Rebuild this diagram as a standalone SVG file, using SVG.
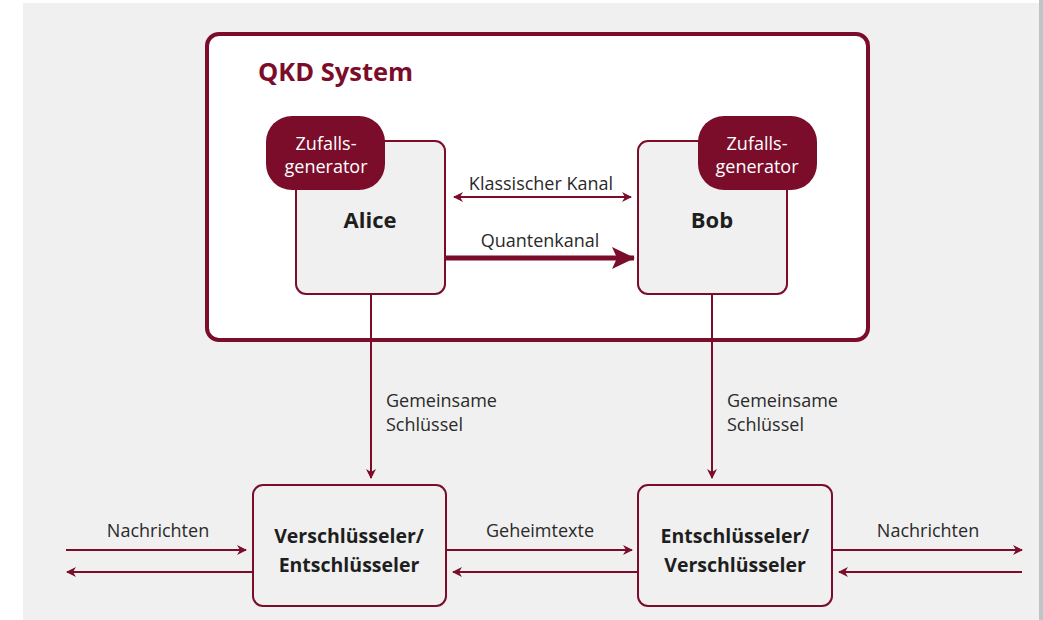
<svg xmlns="http://www.w3.org/2000/svg" width="1043" height="620" viewBox="0 0 1043 620">
<style>
.line{stroke:#7b0d2b;stroke-width:2;fill:none}
.box{fill:#f0f0f0;stroke:#7b0d2b;stroke-width:2}
.blob{fill:#7b0d2b}
.t{font-family:"Open Sans","Noto Sans",sans-serif;fill:#2a2a2a;font-size:18px}
.w{font-family:"Open Sans","Noto Sans",sans-serif;fill:#ffffff;font-size:18px}
.b{font-family:"Open Sans","Noto Sans",sans-serif;fill:#1e1e1e;font-size:19.5px;font-weight:bold}
.bb{font-family:"Open Sans","Noto Sans",sans-serif;fill:#1e1e1e;font-size:22px;font-weight:bold}
</style>
<defs>
<marker id="ah" markerWidth="10" markerHeight="10" refX="9" refY="5" orient="auto-start-reverse" markerUnits="userSpaceOnUse" viewBox="0 0 10 10">
<path d="M0,0 L10,5 L0,10 L3,5 Z" fill="#7b0d2b"/>
</marker>
<marker id="ahq" markerWidth="24" markerHeight="24" refX="22" refY="12" orient="auto" markerUnits="userSpaceOnUse" viewBox="0 0 24 24">
<path d="M0,1 L23,12 L0,23 L5,12 Z" fill="#7b0d2b"/>
</marker>
</defs>
<rect x="0" y="0" width="1043" height="620" fill="#ffffff"/>
<rect x="23" y="3" width="1016" height="617" fill="#f0f0f0"/>
<rect x="1039" y="0" width="4" height="620" fill="#bcc5c8"/>

<g id="qkd-system">
<rect x="207" y="34" width="661" height="306" rx="12" fill="#ffffff" stroke="#7b0d2b" stroke-width="4"/>
<text x="258" y="81" font-family="'Open Sans','Noto Sans',sans-serif" font-size="25.5" font-weight="bold" fill="#7b0d2b">QKD System</text>
</g>

<g id="alice">
<rect class="box" x="296" y="141" width="149" height="153" rx="10"/>
<text class="bb" x="370" y="228" text-anchor="middle">Alice</text>
</g>
<g id="alice-rng">
<rect class="blob" x="266" y="116" width="119" height="74" rx="26"/>
<text class="w" x="326" y="150" text-anchor="middle">Zufalls-</text>
<text class="w" x="326" y="173" text-anchor="middle">generator</text>
</g>

<g id="bob">
<rect class="box" x="638" y="141" width="149" height="153" rx="10"/>
<text class="bb" x="712" y="228" text-anchor="middle">Bob</text>
</g>
<g id="bob-rng">
<rect class="blob" x="698" y="116" width="119" height="74" rx="26"/>
<text class="w" x="757" y="150" text-anchor="middle">Zufalls-</text>
<text class="w" x="757" y="173" text-anchor="middle">generator</text>
</g>

<g id="encryptor">
<rect class="box" x="253" y="485" width="193" height="121" rx="10"/>
<text class="b" x="349" y="543" text-anchor="middle">Verschlüsseler/</text>
<text class="b" x="349" y="572" text-anchor="middle">Entschlüsseler</text>
</g>
<g id="decryptor">
<rect class="box" x="638" y="485" width="194" height="121" rx="10"/>
<text class="b" x="735" y="543" text-anchor="middle">Entschlüsseler/</text>
<text class="b" x="735" y="572" text-anchor="middle">Verschlüsseler</text>
</g>

<g id="connectors">
<line class="line" x1="454" y1="197" x2="631" y2="197" marker-start="url(#ah)" marker-end="url(#ah)"/>
<text class="t" x="541" y="190" text-anchor="middle">Klassischer Kanal</text>
<line x1="445" y1="258" x2="634" y2="258" stroke="#7b0d2b" stroke-width="5" marker-end="url(#ahq)"/>
<text class="t" x="540" y="247" text-anchor="middle">Quantenkanal</text>

<line class="line" x1="371" y1="294" x2="371" y2="478" marker-end="url(#ah)"/>
<text class="t" x="386" y="407">Gemeinsame</text>
<text class="t" x="386" y="431">Schlüssel</text>
<line class="line" x1="712" y1="294" x2="712" y2="478" marker-end="url(#ah)"/>
<text class="t" x="727" y="407">Gemeinsame</text>
<text class="t" x="727" y="431">Schlüssel</text>

<line class="line" x1="66" y1="550" x2="246" y2="550" marker-end="url(#ah)"/>
<line class="line" x1="253" y1="572" x2="67" y2="572" marker-end="url(#ah)"/>
<text class="t" x="158" y="537" text-anchor="middle">Nachrichten</text>

<line class="line" x1="446" y1="550" x2="632" y2="550" marker-end="url(#ah)"/>
<line class="line" x1="638" y1="572" x2="453" y2="572" marker-end="url(#ah)"/>
<text class="t" x="540" y="537" text-anchor="middle">Geheimtexte</text>

<line class="line" x1="832" y1="550" x2="1022" y2="550" marker-end="url(#ah)"/>
<line class="line" x1="1022" y1="572" x2="839" y2="572" marker-end="url(#ah)"/>
<text class="t" x="928" y="537" text-anchor="middle">Nachrichten</text>
</g>
</svg>
